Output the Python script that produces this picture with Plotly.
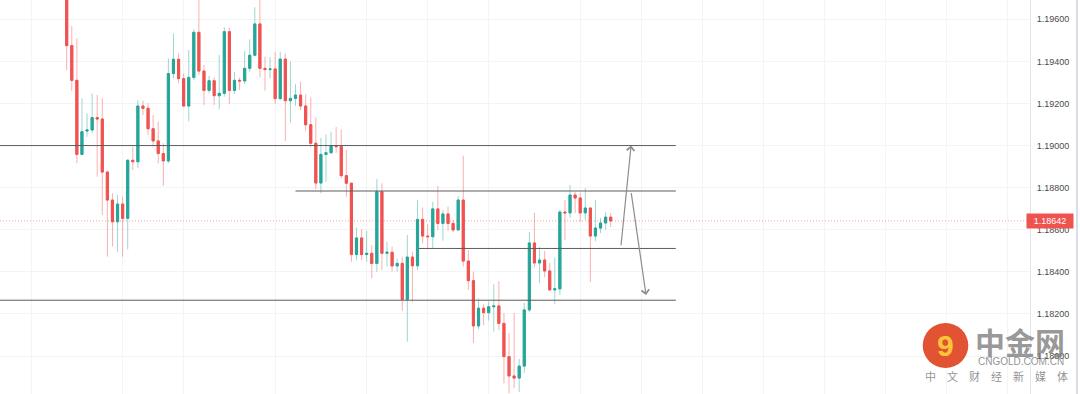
import plotly.graph_objects as go

# ---------------- data (EUR/USD 4H candles) ----------------
opens = [1.19750, 1.19475, 1.19310, 1.18958, 1.19069, 1.19074, 1.19133, 1.19126, 1.18874, 1.18741,
         1.18638, 1.18722, 1.18654, 1.18930, 1.18923, 1.19188, 1.19177, 1.19080, 1.19022, 1.18962,
         1.18927, 1.19342, 1.19410, 1.19318, 1.19188, 1.19324, 1.19538, 1.19354, 1.19262, 1.19308,
         1.19237, 1.19248, 1.19541, 1.19262, 1.19310, 1.19307, 1.19367, 1.19429, 1.19578, 1.19367,
         1.19361, 1.19364, 1.19223, 1.19411, 1.19213, 1.19224, 1.19240, 1.19188, 1.19099, 1.19011,
         1.18822, 1.18958, 1.18966, 1.18999, 1.18995, 1.18857, 1.18821, 1.18482, 1.18561, 1.18482,
         1.18488, 1.18440, 1.18781, 1.18488, 1.18493, 1.18428, 1.18440, 1.18269, 1.18470, 1.18429,
         1.18649, 1.18570, 1.18567, 1.18699, 1.18630, 1.18675, 1.18630, 1.18599, 1.18741, 1.18451,
         1.18358, 1.18143, 1.18227, 1.18206, 1.18234, 1.18238, 1.18155, 1.17997, 1.17905, 1.17895,
         1.17952, 1.18219, 1.18537, 1.18442, 1.18456, 1.18404, 1.18314, 1.18319, 1.18684, 1.18680,
         1.18765, 1.18751, 1.18680, 1.18703, 1.18570, 1.18608, 1.18632, 1.18660]
highs = [1.19800, 1.19568, 1.19510, 1.19224, 1.19153, 1.19248, 1.19240, 1.19224, 1.18880, 1.18773,
         1.18765, 1.18757, 1.18935, 1.18995, 1.19216, 1.19213, 1.19201, 1.19145, 1.19114, 1.19011,
         1.19414, 1.19533, 1.19438, 1.19343, 1.19454, 1.19552, 1.19720, 1.19383, 1.19331, 1.19324,
         1.19430, 1.19562, 1.19560, 1.19351, 1.19324, 1.19449, 1.19505, 1.19657, 1.19720, 1.19423,
         1.19419, 1.19446, 1.19446, 1.19438, 1.19399, 1.19291, 1.19304, 1.19243, 1.19229, 1.19134,
         1.19036, 1.19053, 1.19066, 1.19088, 1.19077, 1.18979, 1.18825, 1.18611, 1.18602, 1.18594,
         1.18527, 1.18841, 1.18821, 1.18543, 1.18520, 1.18464, 1.18472, 1.18575, 1.18496, 1.18741,
         1.18706, 1.18627, 1.18733, 1.18808, 1.18694, 1.18710, 1.18646, 1.18760, 1.18952, 1.18504,
         1.18401, 1.18274, 1.18247, 1.18258, 1.18341, 1.18356, 1.18203, 1.18108, 1.18204, 1.17986,
         1.18252, 1.18589, 1.18680, 1.18518, 1.18499, 1.18442, 1.18466, 1.18694, 1.18741, 1.18813,
         1.18779, 1.18775, 1.18798, 1.18708, 1.18741, 1.18656, 1.18684, 1.18680]
lows = [1.19359, 1.19259, 1.18916, 1.18955, 1.19042, 1.19058, 1.18852, 1.18670, 1.18472, 1.18520,
        1.18496, 1.18472, 1.18507, 1.18884, 1.18892, 1.19145, 1.19050, 1.18995, 1.18916, 1.18809,
        1.18916, 1.19319, 1.19296, 1.19185, 1.19114, 1.19312, 1.19335, 1.19193, 1.19248, 1.19193,
        1.19172, 1.19232, 1.19197, 1.19245, 1.19264, 1.19292, 1.19351, 1.19423, 1.19324, 1.19261,
        1.19319, 1.19197, 1.19217, 1.19023, 1.19109, 1.19188, 1.19169, 1.19071, 1.18992, 1.18792,
        1.18773, 1.18828, 1.18960, 1.18966, 1.18844, 1.18757, 1.18448, 1.18456, 1.18456, 1.18448,
        1.18369, 1.18401, 1.18409, 1.18425, 1.18401, 1.18401, 1.18215, 1.18068, 1.18258, 1.18409,
        1.18535, 1.18512, 1.18512, 1.18599, 1.18548, 1.18596, 1.18588, 1.18596, 1.18425, 1.18314,
        1.18063, 1.18127, 1.18147, 1.18168, 1.18116, 1.18124, 1.17870, 1.17823, 1.17848, 1.17829,
        1.17919, 1.18209, 1.18423, 1.18347, 1.18375, 1.18310, 1.18247, 1.18290, 1.18551, 1.18656,
        1.18680, 1.18637, 1.18647, 1.18352, 1.18546, 1.18584, 1.18600, 1.18613]
closes = [1.19475, 1.19310, 1.18958, 1.19066, 1.19074, 1.19133, 1.19126, 1.18874, 1.18741, 1.18638,
          1.18722, 1.18654, 1.18930, 1.18923, 1.19188, 1.19177, 1.19080, 1.19022, 1.18962, 1.18927,
          1.19342, 1.19410, 1.19318, 1.19188, 1.19324, 1.19538, 1.19354, 1.19262, 1.19308, 1.19237,
          1.19248, 1.19541, 1.19262, 1.19310, 1.19307, 1.19367, 1.19429, 1.19578, 1.19367, 1.19361,
          1.19364, 1.19223, 1.19411, 1.19213, 1.19224, 1.19240, 1.19188, 1.19099, 1.19011, 1.18822,
          1.18958, 1.18966, 1.18999, 1.18995, 1.18857, 1.18821, 1.18482, 1.18561, 1.18482, 1.18488,
          1.18440, 1.18781, 1.18488, 1.18493, 1.18428, 1.18440, 1.18269, 1.18470, 1.18429, 1.18649,
          1.18570, 1.18567, 1.18699, 1.18630, 1.18675, 1.18630, 1.18599, 1.18741, 1.18451, 1.18358,
          1.18143, 1.18227, 1.18206, 1.18234, 1.18238, 1.18155, 1.17997, 1.17905, 1.17895, 1.17952,
          1.18219, 1.18537, 1.18442, 1.18456, 1.18404, 1.18314, 1.18319, 1.18684, 1.18680, 1.18765,
          1.18751, 1.18680, 1.18703, 1.18570, 1.18608, 1.18632, 1.18660, 1.18642]
bar_index = list(range(len(opens)))

y_tick_values = [1.180, 1.182, 1.184, 1.186, 1.188, 1.190, 1.192, 1.194, 1.196]
y_tick_labels = ["%.5f" % v for v in y_tick_values]
time_grid = [-7, 11, 23, 41, 59, 71, 83, 101, 113, 125, 137, 149, 161, 173, 185]

last_price = 1.18642
full_levels = [1.19000, 1.18265]
partial_levels = [1.18784, 1.18511]
partial_level_starts = [45, 69.3]
level_end = 119.8
arrow_tails = [(109.0, 1.18519), (111.0, 1.18781)]
arrow_heads = [(111.0, 1.19000), (113.95, 1.18290)]

# ---------------- styling ----------------
W, H = 1080, 394
PLOT_R = 50
PW = W - PLOT_R
X_RANGE = [-13.12, 189.47]
Y_RANGE = [1.178194, 1.196917]
UP, DOWN = "#26a69a", "#ef5350"
UP_WICK, DOWN_WICK = "rgba(38,166,154,0.45)", "rgba(239,83,80,0.45)"


def pxx(v):
    return v / PW


def pxy(v):
    return 1 - v / H


body_hi = [max(o, c) for o, c in zip(opens, closes)]
body_lo = [min(o, c) for o, c in zip(opens, closes)]

fig = go.Figure()
fig.add_trace(go.Candlestick(
    x=bar_index, open=opens, high=highs, low=lows, close=closes,
    increasing=dict(line=dict(color=UP_WICK, width=1), fillcolor=UP_WICK),
    decreasing=dict(line=dict(color=DOWN_WICK, width=1), fillcolor=DOWN_WICK),
    whiskerwidth=0, hoverinfo="skip", showlegend=False))
fig.add_trace(go.Candlestick(
    x=bar_index, open=opens, high=body_hi, low=body_lo, close=closes,
    increasing=dict(line=dict(color=UP, width=1), fillcolor=UP),
    decreasing=dict(line=dict(color=DOWN, width=1), fillcolor=DOWN),
    whiskerwidth=0, showlegend=False))

shapes = []
for lv in full_levels:
    shapes.append(dict(type="line", xref="x", yref="y", x0=X_RANGE[0], x1=level_end,
                       y0=lv, y1=lv, line=dict(color="#5c5c5c", width=1)))
for lv, st in zip(partial_levels, partial_level_starts):
    shapes.append(dict(type="line", xref="x", yref="y", x0=st, x1=level_end,
                       y0=lv, y1=lv, line=dict(color="#5c5c5c", width=1)))
shapes.append(dict(type="line", xref="paper", yref="y", x0=0, x1=1, y0=last_price, y1=last_price,
                   line=dict(color="rgba(239,83,80,0.55)", width=1, dash="1px,2px")))
shapes.append(dict(type="line", xref="paper", yref="paper", x0=pxx(1077), x1=pxx(1077), y0=0, y1=1,
                   line=dict(color="#d8dde7", width=2)))
# watermark logo circle
shapes.append(dict(type="circle", xref="paper", yref="paper",
                   x0=pxx(922.7), x1=pxx(968.3), y0=pxy(368), y1=pxy(323),
                   fillcolor="rgba(222,64,28,0.9)", line=dict(width=0)))

annotations = []
for (tx, ty), (hx, hy) in zip(arrow_tails, arrow_heads):
    annotations.append(dict(x=hx, y=hy, ax=tx, ay=ty, xref="x", yref="y", axref="x", ayref="y",
                            text="", showarrow=True, arrowhead=4, arrowsize=1.25, arrowwidth=1.2,
                            arrowcolor="#8c8c8c", standoff=0, startstandoff=0))
annotations.append(dict(x=pxx(1050), y=last_price, xref="paper", yref="y", text="1.18642",
                        showarrow=False, bgcolor="#ef5350", font=dict(color="white", size=9,
                        family="Liberation Sans, Arial"), width=44, height=12, borderpad=1,
                        xanchor="center", yanchor="middle"))
annotations.append(dict(x=pxx(945.5), y=pxy(345.5), xref="paper", yref="paper", text="<b>9</b>",
                        showarrow=False, font=dict(color="#ffc53a", size=30, family="Liberation Sans"),
                        xanchor="center", yanchor="middle"))
annotations.append(dict(x=pxx(1020), y=pxy(340.5), xref="paper", yref="paper", text="<b>中金网</b>",
                        showarrow=False, font=dict(color="rgba(125,125,125,0.8)", size=30,
                        family="Noto Sans CJK SC"), xanchor="center", yanchor="middle"))
annotations.append(dict(x=pxx(1020.5), y=pxy(361.5), xref="paper", yref="paper", text="CNGOLD.COM.CN",
                        showarrow=False, font=dict(color="rgba(125,125,125,0.85)", size=10,
                        family="Liberation Sans, Arial"), xanchor="center", yanchor="middle"))
annotations.append(dict(x=pxx(996), y=pxy(376), xref="paper", yref="paper",
                        text="中\u3000文\u3000财\u3000经\u3000新\u3000媒\u3000体",
                        showarrow=False, font=dict(color="rgba(125,125,125,0.85)", size=11,
                        family="Noto Sans CJK SC"), xanchor="center", yanchor="middle"))

fig.update_layout(
    width=W, height=H, margin=dict(l=0, r=PLOT_R, t=0, b=0, autoexpand=False),
    paper_bgcolor="white", plot_bgcolor="white", showlegend=False, boxgap=0.4,
    xaxis=dict(range=X_RANGE, tickvals=time_grid, showticklabels=False, showgrid=True,
               gridcolor="#f3f4f7", gridwidth=1, zeroline=False, showline=False,
               rangeslider=dict(visible=False), fixedrange=True),
    yaxis=dict(range=Y_RANGE, side="right", tickvals=y_tick_values, ticktext=y_tick_labels,
               tickfont=dict(size=9, color="#4a4a4a", family="Liberation Sans, Arial"),
               showgrid=True, gridcolor="#f3f4f7", gridwidth=1, zeroline=False,
               showline=True, linecolor="#e3e6ec", linewidth=1,
               ticks="outside", ticklen=4, tickcolor="rgba(0,0,0,0)", fixedrange=True),
    shapes=shapes, annotations=annotations,
)

fig.write_html("out.html", config={"displayModeBar": False},
               post_script="document.body.style.margin='0';document.body.style.overflow='hidden';")
